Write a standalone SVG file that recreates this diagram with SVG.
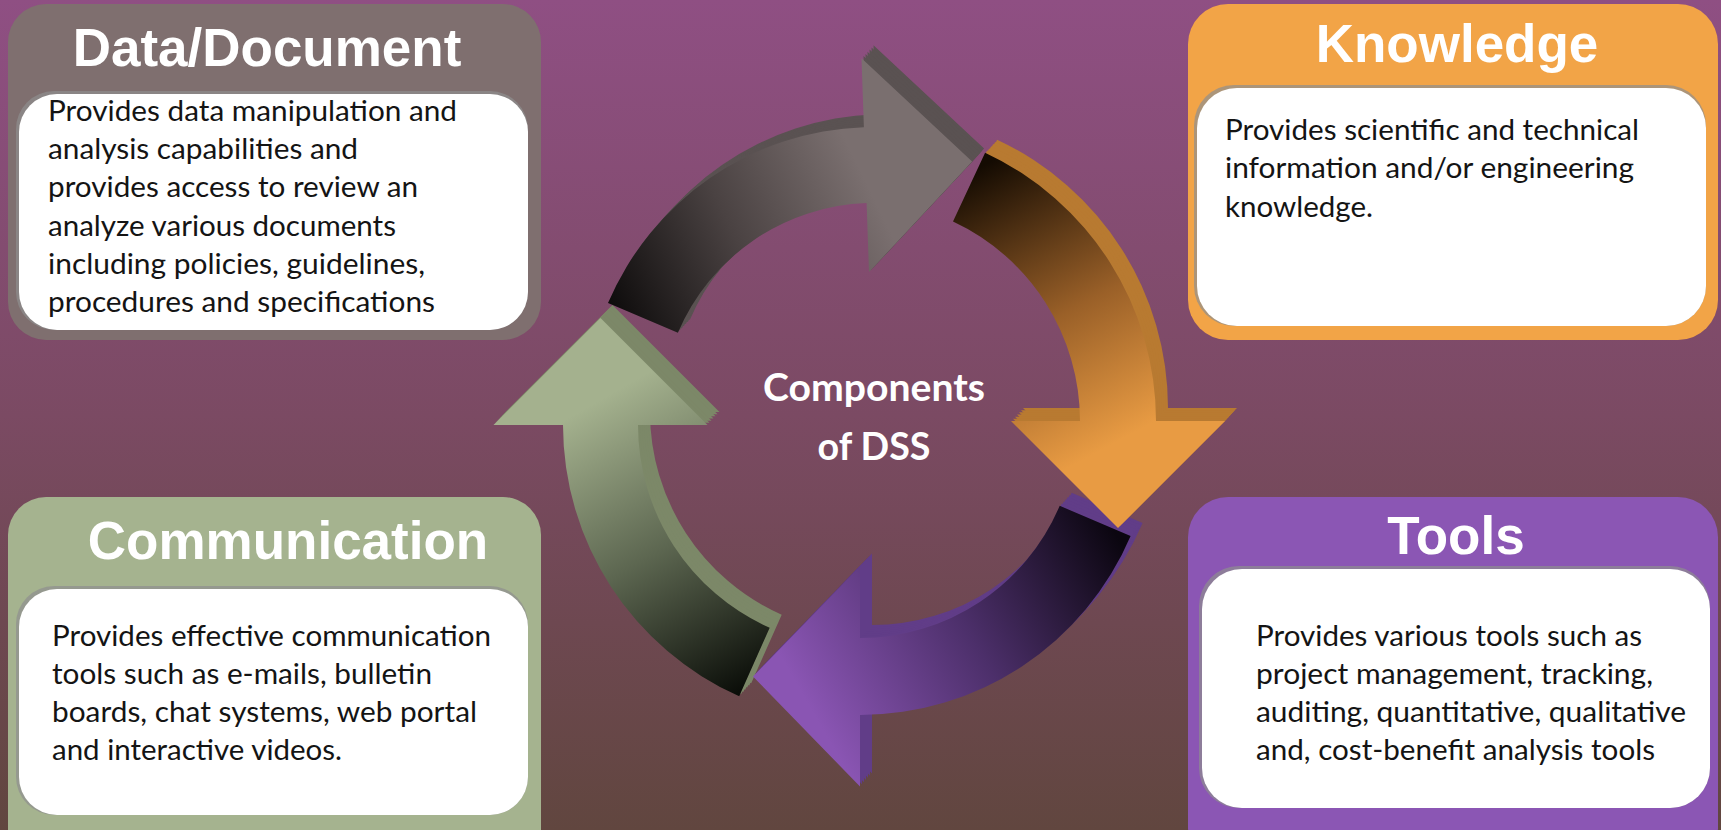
<svg xmlns="http://www.w3.org/2000/svg" xmlns:xlink="http://www.w3.org/1999/xlink" width="1721" height="830" viewBox="0 0 1721 830">
<style>
.title{font-family:"Liberation Sans",Arial,sans-serif;font-weight:bold;font-size:53px;fill:#ffffff;text-anchor:middle}
.body{font-family:Lato,"Open Sans",sans-serif;font-size:28px;fill:#141414}
.center{font-family:Lato,"Open Sans",sans-serif;font-weight:bold;font-size:39px;fill:#ffffff;text-anchor:middle}
.card{fill:#ffffff}
.cardShadow{fill:#8f8f8f;opacity:0.7}
</style>
<defs>
<linearGradient id="bg" x1="0" y1="0" x2="0" y2="1">
<stop offset="0" stop-color="#8f4f83"/>
<stop offset="0.5" stop-color="#7b4a63"/>
<stop offset="1" stop-color="#61463f"/>
</linearGradient>
<linearGradient id="gGray" gradientUnits="userSpaceOnUse" x1="615" y1="315" x2="870" y2="190">
<stop offset="0" stop-color="#0e0c0c"/>
<stop offset="0.5" stop-color="#4a4242"/>
<stop offset="1" stop-color="#7a6f6f"/>
</linearGradient>
<linearGradient id="gOrange" gradientUnits="userSpaceOnUse" x1="975" y1="170" x2="1120" y2="440">
<stop offset="0" stop-color="#140b02"/>
<stop offset="0.55" stop-color="#9a6028"/>
<stop offset="1" stop-color="#e89b43"/>
</linearGradient>
<linearGradient id="gPurple" gradientUnits="userSpaceOnUse" x1="1105" y1="515" x2="800" y2="690">
<stop offset="0" stop-color="#0b0610"/>
<stop offset="0.5" stop-color="#4c2f6a"/>
<stop offset="1" stop-color="#8a55b3"/>
</linearGradient>
<linearGradient id="gGreen" gradientUnits="userSpaceOnUse" x1="760" y1="680" x2="600" y2="400">
<stop offset="0" stop-color="#0b0e09"/>
<stop offset="0.5" stop-color="#5c6650"/>
<stop offset="1" stop-color="#a4b18e"/>
</linearGradient>
<path id="pGray" d="M 608.0 303.1 A 289 289 0 0 1 863.9 127.2 L 861.5 58.2 L 972.1 161.5 L 869.0 272.1 L 866.6 203.1 A 213 213 0 0 0 677.9 332.8 Z"/>
<path id="pOrange" d="M 985.1 152.7 A 296 296 0 0 1 1156 421 L 1225 421 L 1118 528 L 1011 421 L 1080 421 A 220 220 0 0 0 953.0 221.6 Z"/>
<path id="pPurple" d="M 1130.6 535.9 A 294 294 0 0 1 860 715 L 860 786.5 L 753 676.5 L 860 566.5 L 860 638 A 217 217 0 0 0 1059.7 505.8 Z"/>
<path id="pGreen" d="M 739.2 696.3 A 297 297 0 0 1 563 425 L 493.5 425 L 600.5 318 L 707.5 425 L 638 425 A 222 222 0 0 0 769.7 627.8 Z"/>
</defs>

<rect x="0" y="0" width="1721" height="830" fill="url(#bg)"/>

<g id="node-data">
<rect x="8" y="4" width="533" height="336" rx="38" fill="#7f6f6f"/>
<text class="title" x="267" y="66">Data/Document</text>
<rect class="cardShadow" x="16" y="91" width="512" height="239" rx="38"/>
<rect class="card" x="19" y="94" width="509" height="236" rx="38"/>
<text class="body" x="48" y="121" textLength="409" lengthAdjust="spacingAndGlyphs">Provides data manipulation and</text>
<text class="body" x="48" y="159" textLength="310" lengthAdjust="spacingAndGlyphs">analysis capabilities and</text>
<text class="body" x="48" y="197" textLength="370" lengthAdjust="spacingAndGlyphs">provides access to review an</text>
<text class="body" x="48" y="236" textLength="348" lengthAdjust="spacingAndGlyphs">analyze various documents</text>
<text class="body" x="48" y="274" textLength="377" lengthAdjust="spacingAndGlyphs">including policies, guidelines,</text>
<text class="body" x="48" y="312" textLength="387" lengthAdjust="spacingAndGlyphs">procedures and specifications</text>
</g>

<g id="node-knowledge">
<rect x="1188" y="4" width="530" height="336" rx="40" fill="#f2a447"/>
<text class="title" x="1457" y="62">Knowledge</text>
<rect class="cardShadow" x="1194" y="85" width="512" height="241" rx="40"/>
<rect class="card" x="1197" y="88" width="509" height="238" rx="40"/>
<text class="body" x="1225" y="140" textLength="414" lengthAdjust="spacingAndGlyphs">Provides scientific and technical</text>
<text class="body" x="1225" y="178" textLength="409" lengthAdjust="spacingAndGlyphs">information and/or engineering</text>
<text class="body" x="1225" y="217" textLength="148" lengthAdjust="spacingAndGlyphs">knowledge.</text>
</g>

<g id="node-communication">
<rect x="8" y="497" width="533" height="370" rx="38" fill="#a5b38f"/>
<text class="title" x="288" y="559">Communication</text>
<rect class="cardShadow" x="16" y="586" width="512" height="229" rx="38"/>
<rect class="card" x="19" y="589" width="509" height="226" rx="38"/>
<text class="body" x="52" y="646" textLength="439" lengthAdjust="spacingAndGlyphs">Provides effective communication</text>
<text class="body" x="52" y="684" textLength="380" lengthAdjust="spacingAndGlyphs">tools such as e-mails, bulletin</text>
<text class="body" x="52" y="722" textLength="425" lengthAdjust="spacingAndGlyphs">boards, chat systems, web portal</text>
<text class="body" x="52" y="760" textLength="290" lengthAdjust="spacingAndGlyphs">and interactive videos.</text>
</g>

<g id="node-tools">
<rect x="1188" y="497" width="530" height="370" rx="40" fill="#8b56b4"/>
<text class="title" x="1456" y="554">Tools</text>
<rect class="cardShadow" x="1199" y="566" width="511" height="242" rx="40"/>
<rect class="card" x="1202" y="569" width="508" height="239" rx="40"/>
<text class="body" x="1256" y="646" textLength="386" lengthAdjust="spacingAndGlyphs">Provides various tools such as</text>
<text class="body" x="1256" y="684" textLength="397" lengthAdjust="spacingAndGlyphs">project management, tracking,</text>
<text class="body" x="1256" y="722" textLength="430" lengthAdjust="spacingAndGlyphs">auditing, quantitative, qualitative</text>
<text class="body" x="1256" y="760" textLength="399" lengthAdjust="spacingAndGlyphs">and, cost-benefit analysis tools</text>
</g>

<g id="connectors">
<g id="arrow-green">
<use xlink:href="#pGreen" href="#pGreen" fill="#7c8868" transform="translate(12,-13)"/>
<use xlink:href="#pGreen" href="#pGreen" fill="#7c8868" transform="translate(10,-10.8)"/>
<use xlink:href="#pGreen" href="#pGreen" fill="#7c8868" transform="translate(8,-8.7)"/>
<use xlink:href="#pGreen" href="#pGreen" fill="#7c8868" transform="translate(6,-6.5)"/>
<use xlink:href="#pGreen" href="#pGreen" fill="#7c8868" transform="translate(4,-4.3)"/>
<use xlink:href="#pGreen" href="#pGreen" fill="#7c8868" transform="translate(2,-2.2)"/>
<use xlink:href="#pGreen" href="#pGreen" fill="url(#gGreen)"/>
</g>
<g id="arrow-gray">
<use xlink:href="#pGray" href="#pGray" fill="#5a5252" transform="translate(12,-13)"/>
<use xlink:href="#pGray" href="#pGray" fill="#5a5252" transform="translate(10,-10.8)"/>
<use xlink:href="#pGray" href="#pGray" fill="#5a5252" transform="translate(8,-8.7)"/>
<use xlink:href="#pGray" href="#pGray" fill="#5a5252" transform="translate(6,-6.5)"/>
<use xlink:href="#pGray" href="#pGray" fill="#5a5252" transform="translate(4,-4.3)"/>
<use xlink:href="#pGray" href="#pGray" fill="#5a5252" transform="translate(2,-2.2)"/>
<use xlink:href="#pGray" href="#pGray" fill="url(#gGray)"/>
</g>
<g id="arrow-purple">
<use xlink:href="#pPurple" href="#pPurple" fill="#613d88" transform="translate(12,-13)"/>
<use xlink:href="#pPurple" href="#pPurple" fill="#613d88" transform="translate(10,-10.8)"/>
<use xlink:href="#pPurple" href="#pPurple" fill="#613d88" transform="translate(8,-8.7)"/>
<use xlink:href="#pPurple" href="#pPurple" fill="#613d88" transform="translate(6,-6.5)"/>
<use xlink:href="#pPurple" href="#pPurple" fill="#613d88" transform="translate(4,-4.3)"/>
<use xlink:href="#pPurple" href="#pPurple" fill="#613d88" transform="translate(2,-2.2)"/>
<use xlink:href="#pPurple" href="#pPurple" fill="url(#gPurple)"/>
</g>
<g id="arrow-orange">
<use xlink:href="#pOrange" href="#pOrange" fill="#b87a31" transform="translate(12,-13)"/>
<use xlink:href="#pOrange" href="#pOrange" fill="#b87a31" transform="translate(10,-10.8)"/>
<use xlink:href="#pOrange" href="#pOrange" fill="#b87a31" transform="translate(8,-8.7)"/>
<use xlink:href="#pOrange" href="#pOrange" fill="#b87a31" transform="translate(6,-6.5)"/>
<use xlink:href="#pOrange" href="#pOrange" fill="#b87a31" transform="translate(4,-4.3)"/>
<use xlink:href="#pOrange" href="#pOrange" fill="#b87a31" transform="translate(2,-2.2)"/>
<use xlink:href="#pOrange" href="#pOrange" fill="url(#gOrange)"/>
</g>
</g>

<g id="node-center">
<text class="center" x="874" y="401" textLength="222" lengthAdjust="spacingAndGlyphs">Components</text>
<text class="center" x="874" y="460" textLength="113" lengthAdjust="spacingAndGlyphs">of DSS</text>
</g>
</svg>
